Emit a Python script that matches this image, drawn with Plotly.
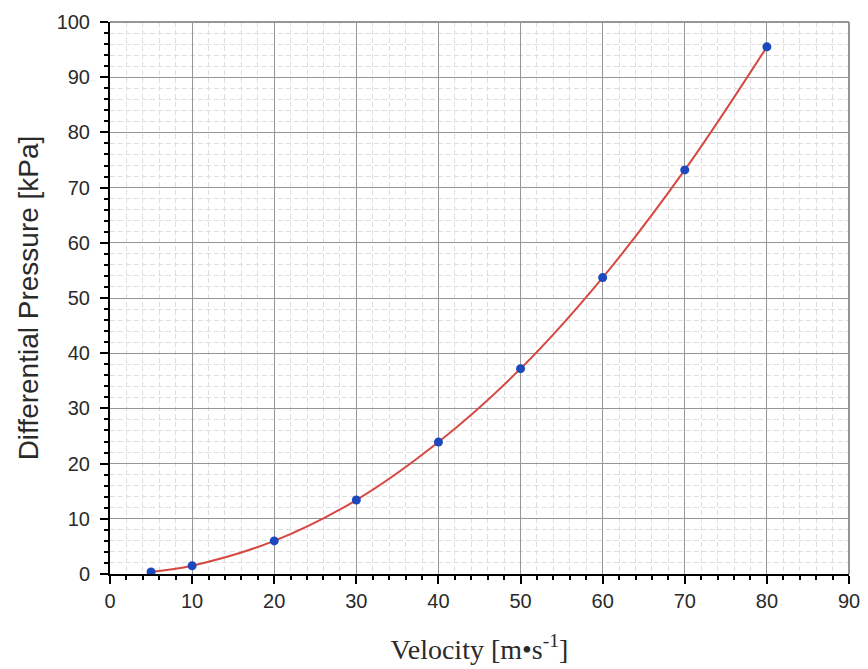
import plotly.graph_objects as go

# Measured velocity and differential pressure
velocity = [5, 10, 20, 30, 40, 50, 60, 70, 80]
pressure = [0.37, 1.5, 6.0, 13.4, 23.9, 37.2, 53.7, 73.2, 95.5]

x_ticks = list(range(0, 91, 10))
y_ticks = list(range(0, 101, 10))

fig = go.Figure()

# Smooth fitted curve through the measurements
fig.add_trace(go.Scatter(
    x=velocity, y=pressure, mode="lines",
    line=dict(color="rgb(214,72,66)", width=2, shape="spline", smoothing=1.0),
    hoverinfo="skip", showlegend=False,
))

# Measurement points
fig.add_trace(go.Scatter(
    x=velocity, y=pressure, mode="markers",
    marker=dict(color="rgb(28,72,190)", size=9),
    showlegend=False,
))

axis_common = dict(
    showline=True, linecolor="black", linewidth=2,
    ticks="outside", tickcolor="black", tickwidth=2, ticklen=8,
    showgrid=True, gridcolor="rgb(150,150,150)", gridwidth=1,
    zeroline=False, automargin=False,
    tickfont=dict(family="Liberation Sans, Arial", size=20, color="#2a2a2a"),
    minor=dict(
        dtick=2, ticks="outside", ticklen=4, tickwidth=2, tickcolor="black",
        showgrid=True, gridcolor="rgb(222,222,222)", griddash="5px,3px", gridwidth=1,
    ),
)

fig.update_xaxes(
    range=[0, 90], tickvals=x_ticks,
    title=dict(text="Velocity [m•s<sup>-1</sup>]",
               font=dict(family="Liberation Serif, Times New Roman", size=28, color="#2a2a2a"),
               standoff=28),
    **axis_common,
)
fig.update_yaxes(
    range=[0, 100], tickvals=y_ticks, ticklabelstandoff=6,
    title=dict(text="Differential Pressure [kPa]",
               font=dict(family="Liberation Sans, Arial", size=28, color="#2a2a2a"),
               standoff=10),
    **axis_common,
)

# Light frame on top and right edges of the plot area
fig.add_shape(type="line", xref="paper", yref="paper", x0=0, x1=1, y0=1, y1=1,
              line=dict(color="rgb(150,150,150)", width=2))
fig.add_shape(type="line", xref="paper", yref="paper", x0=1, x1=1, y0=0, y1=1,
              line=dict(color="rgb(150,150,150)", width=2))

fig.update_layout(
    width=868, height=669,
    margin=dict(l=110, r=19, t=22, b=95),
    plot_bgcolor="white", paper_bgcolor="white",
)

fig.write_html("out.html")
